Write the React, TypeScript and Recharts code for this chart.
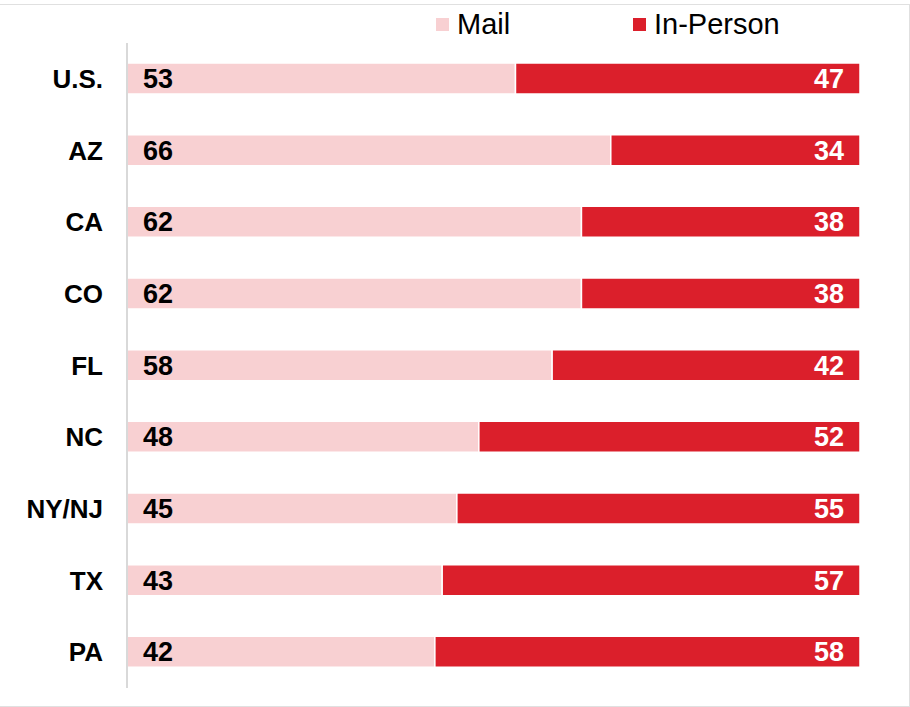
import { Bar, BarChart, LabelList, Legend, XAxis, YAxis } from "recharts";

const states = ["U.S.", "AZ", "CA", "CO", "FL", "NC", "NY/NJ", "TX", "PA"];
const mail = [53, 66, 62, 62, 58, 48, 45, 43, 42];
const inPerson = [47, 34, 38, 38, 42, 52, 55, 57, 58];

const data = states.map((state, i) => ({
  state,
  mail: mail[i],
  inPerson: inPerson[i],
}));

const MAIL_COLOR = "#F8D0D2";
const IN_PERSON_COLOR = "#DB1F2B";
const FONT = "'Liberation Sans', Arial, sans-serif";

function renderLegend() {
  return (
    <svg width={910} height={43} style={{ display: "block" }}>
      <rect x={436} y={18} width={13} height={13} fill={MAIL_COLOR} />
      <text x={457} y={34} fontSize={29} fontFamily={FONT} fill="#000">
        Mail
      </text>
      <rect x={633} y={18} width={13} height={13} fill={IN_PERSON_COLOR} />
      <text x={654} y={34} fontSize={29} fontFamily={FONT} fill="#000">
        In-Person
      </text>
    </svg>
  );
}

function mailLabel(props: any) {
  const { x, y, height, value } = props;
  return (
    <text
      x={x + 16}
      y={y + height / 2 + 9.5}
      fontSize={27}
      fontWeight="bold"
      fontFamily={FONT}
      fill="#000"
      textAnchor="start"
    >
      {value}
    </text>
  );
}

function inPersonLabel(props: any) {
  const { x, y, width, height, value } = props;
  return (
    <text
      x={x + width - 16}
      y={y + height / 2 + 9.5}
      fontSize={27}
      fontWeight="bold"
      fontFamily={FONT}
      fill="#fff"
      textAnchor="end"
    >
      {value}
    </text>
  );
}

export default function App() {
  return (
    <div
      style={{
        position: "absolute",
        left: 0,
        top: 0,
        width: 910,
        height: 707,
        background: "#fff",
        fontFamily: FONT,
      }}
    >
      <div
        style={{
          position: "absolute",
          left: -1,
          top: 4,
          width: 909,
          height: 701,
          border: "1px solid #e0e0e0",
        }}
      />
      <BarChart
        width={910}
        height={707}
        data={data}
        layout="vertical"
        margin={{ top: 0, right: 50, bottom: 19, left: 0 }}
        barSize={31}
      >
        <Legend
          verticalAlign="top"
          content={renderLegend}
          wrapperStyle={{ left: 0, top: 0, width: 910 }}
        />
        <XAxis type="number" domain={[0, 100]} hide />
        <YAxis
          type="category"
          dataKey="state"
          width={127}
          axisLine={{ stroke: "#d9d9d9", strokeWidth: 2 }}
          tickLine={false}
          tickSize={6}
          tickMargin={18}
          tick={{
            fill: "#000",
            fontSize: 26,
            fontWeight: "bold",
            fontFamily: FONT,
          }}
        />
        <Bar
          dataKey="mail"
          stackId="a"
          fill={MAIL_COLOR}
          stroke="#fff"
          strokeWidth={1.5}
          isAnimationActive={false}
        >
          <LabelList dataKey="mail" content={mailLabel} />
        </Bar>
        <Bar
          dataKey="inPerson"
          stackId="a"
          fill={IN_PERSON_COLOR}
          stroke="#fff"
          strokeWidth={1.5}
          isAnimationActive={false}
        >
          <LabelList dataKey="inPerson" content={inPersonLabel} />
        </Bar>
      </BarChart>
    </div>
  );
}
